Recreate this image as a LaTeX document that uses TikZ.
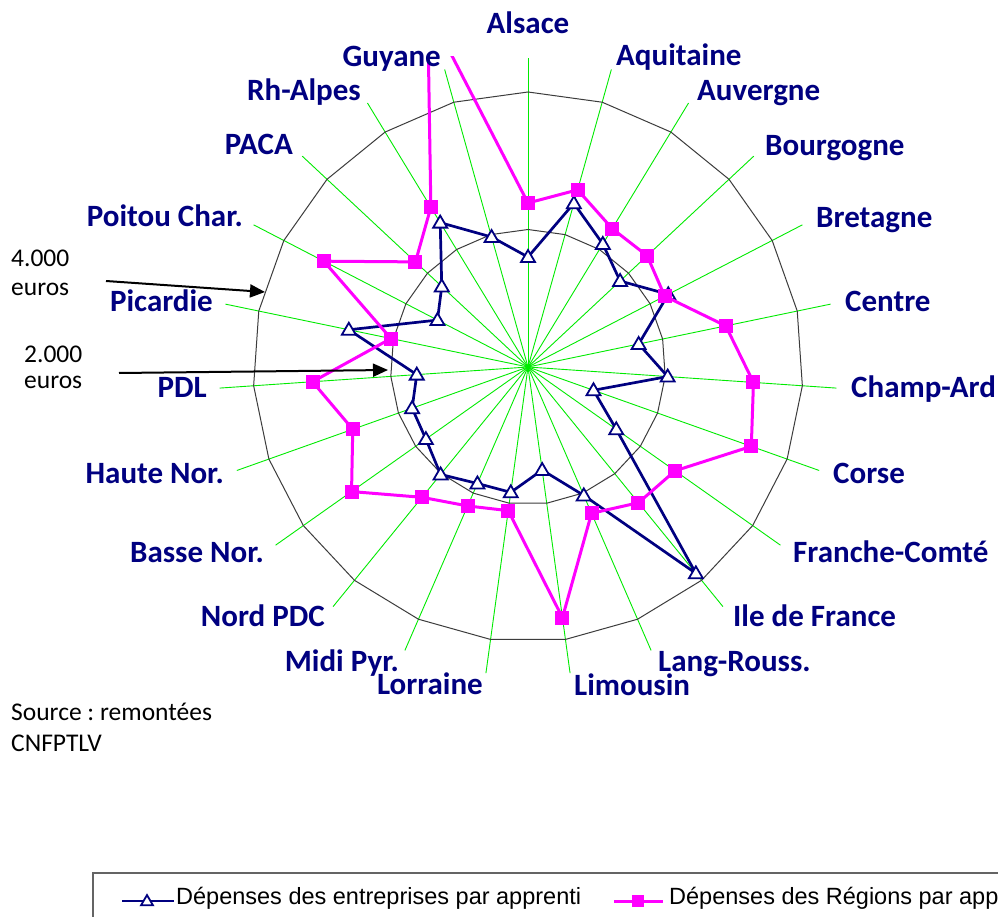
\documentclass[tikz,border=0pt]{standalone}
\usepackage{fontspec}
\setmainfont{Carlito}
\newfontfamily\legfont{Liberation Sans}
\usetikzlibrary{arrows.meta}
\definecolor{navyc}{RGB}{0,0,128}
\definecolor{pinkc}{RGB}{255,0,255}
\definecolor{spokec}{RGB}{0,235,0}
\definecolor{ringc}{RGB}{60,60,60}
\definecolor{legc}{RGB}{100,100,100}
\tikzset{
 spoke/.style={spokec, line width=0.9pt},
 ring/.style={ringc, line width=1pt},
 bluser/.style={navyc, line width=2.7pt, line join=miter},
 pinkser/.style={pinkc, line width=3pt, line join=miter},
 lab/.style={text=navyc, font=\fontsize{31}{36}\selectfont\bfseries, inner sep=0pt},
 note/.style={text=black, font=\frenchspacing\fontsize{25.5}{30}\selectfont, inner sep=0pt},
 legtext/.style={text=black, font=\legfont\fontsize{23.5}{28}\selectfont, inner sep=0pt},
 arr/.style={black, line width=2pt, -{Triangle[length=15pt,width=13pt]}},
 bluemark/.pic={\draw[navyc, line width=1.8pt, fill=white] (-7,5) -- (7,5) -- (0,-7) -- cycle;},
 pinkmark/.pic={\fill[pinkc] (-7,-7) rectangle (7,7);},
}
\begin{document}
\begin{tikzpicture}[x=1pt,y=-1pt]
\useasboundingbox (0,0) rectangle (998,917);
\fill[white] (0,0) rectangle (998,917);
\coordinate (O) at (528,367);
% spokes and rings
\foreach \i in {0,...,22}{
  \coordinate (s\i) at ({528+309*sin(\i*360/23)},{367-309*cos(\i*360/23)});
  \coordinate (ra\i) at ({528+137.5*sin(\i*360/23)},{367-137.5*cos(\i*360/23)});
  \coordinate (rb\i) at ({528+275*sin(\i*360/23)},{367-275*cos(\i*360/23)});
  \draw[spoke] (O) -- (s\i);
}
\draw[ring] (ra0) \foreach \i in {1,...,22}{ -- (ra\i)} -- cycle;
\draw[ring] (rb0) \foreach \i in {1,...,22}{ -- (rb\i)} -- cycle;
% data
\foreach \r [count=\i from 0] in {110,170,144,126,158,113,140,69.5,108,266,140,104,126.5,127,138.5,125,123,111.5,183,102,118,169,135}{
  \coordinate (b\i) at ({528+\r*sin(\i*360/23)},{367-\r*cos(\i*360/23)});
}
\foreach \r [count=\i from 0] in {164,184,162,163,154,202,226,237,180,175,159.5,253,145,151.5,168,216,186,216,140,230,154,187,372}{
  \coordinate (p\i) at ({528+\r*sin(\i*360/23)},{367-\r*cos(\i*360/23)});
}
\draw[bluser] (b0) \foreach \i in {1,...,22}{ -- (b\i)} -- cycle;
\foreach \i in {0,...,22} \pic at (b\i) {bluemark};
\begin{scope}
\clip (0,57) rectangle (998,917);
\draw[pinkser] (p0) \foreach \i in {1,...,22}{ -- (p\i)} -- cycle;
\foreach \i in {0,...,22} \pic at (p\i) {pinkmark};
\end{scope}
% category labels
\node[lab, anchor=base] (l0) at (528,34) {Alsace};
\node[lab, anchor=base west] (l1) at (616,66) {Aquitaine};
\node[lab, anchor=base west] (l2) at (697,101) {Auvergne};
\node[lab, anchor=base west] (l3) at (765,156) {Bourgogne};
\node[lab, anchor=base west] (l4) at (816,228) {Bretagne};
\node[lab, anchor=base west] (l5) at (845,311) {Centre};
\node[lab, anchor=base west] (l6) at (851,397) {Champ-Ard};
\node[lab, anchor=base west] (l7) at (833,483) {Corse};
\node[lab, anchor=base west] (l8) at (793,562) {Franche-Comté};
\node[lab, anchor=base west] (l9) at (733,626) {Ile de France};
\node[lab, anchor=base west] (l10) at (658,671) {Lang-Rouss.};
\node[lab, anchor=base west] (l11) at (574,695) {Limousin};
\node[lab, anchor=base east] (l12) at (483,694) {Lorraine};
\node[lab, anchor=base east] (l13) at (399,671) {Midi Pyr.};
\node[lab, anchor=base east] (l14) at (325,626) {Nord PDC};
\node[lab, anchor=base east] (l15) at (264,562) {Basse Nor.};
\node[lab, anchor=base east] (l16) at (224,483) {Haute Nor.};
\node[lab, anchor=base east] (l17) at (207,397) {PDL};
\node[lab, anchor=base east] (l18) at (213,311) {Picardie};
\node[lab, anchor=base east] (l19) at (243,227) {Poitou Char.};
\node[lab, anchor=base east] (l20) at (293,155) {PACA};
\node[lab, anchor=base east] (l21) at (361,101) {Rh-Alpes};
\node[lab, anchor=base east] (l22) at (441,67) {Guyane};
% notes and arrows
\node[note, anchor=base west] (n4a) at (11,266) {4.000};
\node[note, anchor=base west] (n4b) at (11,295) {euros};
\node[note, anchor=base west] (n2a) at (24,362) {2.000};
\node[note, anchor=base west] (n2b) at (24,388) {euros};
\coordinate (a4s) at (106,281);
\coordinate (a4e) at (265,292);
\coordinate (a2s) at (119,373);
\coordinate (a2e) at (388,370);
\draw[arr] (a4s) -- (a4e);
\draw[arr] (a2s) -- (a2e);
\node[note, anchor=base west] (src1) at (11,720) {Source : remontées};
\node[note, anchor=base west] (src2) at (11,751) {CNFPTLV};
% legend
\draw[legc, line width=1.5pt] (93,873) rectangle (1010,930);
\coordinate (lb1) at (122,901);
\coordinate (lb2) at (174,901);
\draw[bluser] (lb1) -- (lb2);
\pic[scale=0.85] at (147,901) {bluemark};
\node[legtext, anchor=base west] (leg1) at (176,904) {Dépenses des entreprises par apprenti};
\coordinate (lp1) at (614,901);
\coordinate (lp2) at (663,901);
\draw[pinkser] (lp1) -- (lp2);
\pic[scale=0.9] at (638,901) {pinkmark};
\node[legtext, anchor=base west] (leg2) at (669,904) {Dépenses des Régions par apprenti};
\end{tikzpicture}
\end{document}
